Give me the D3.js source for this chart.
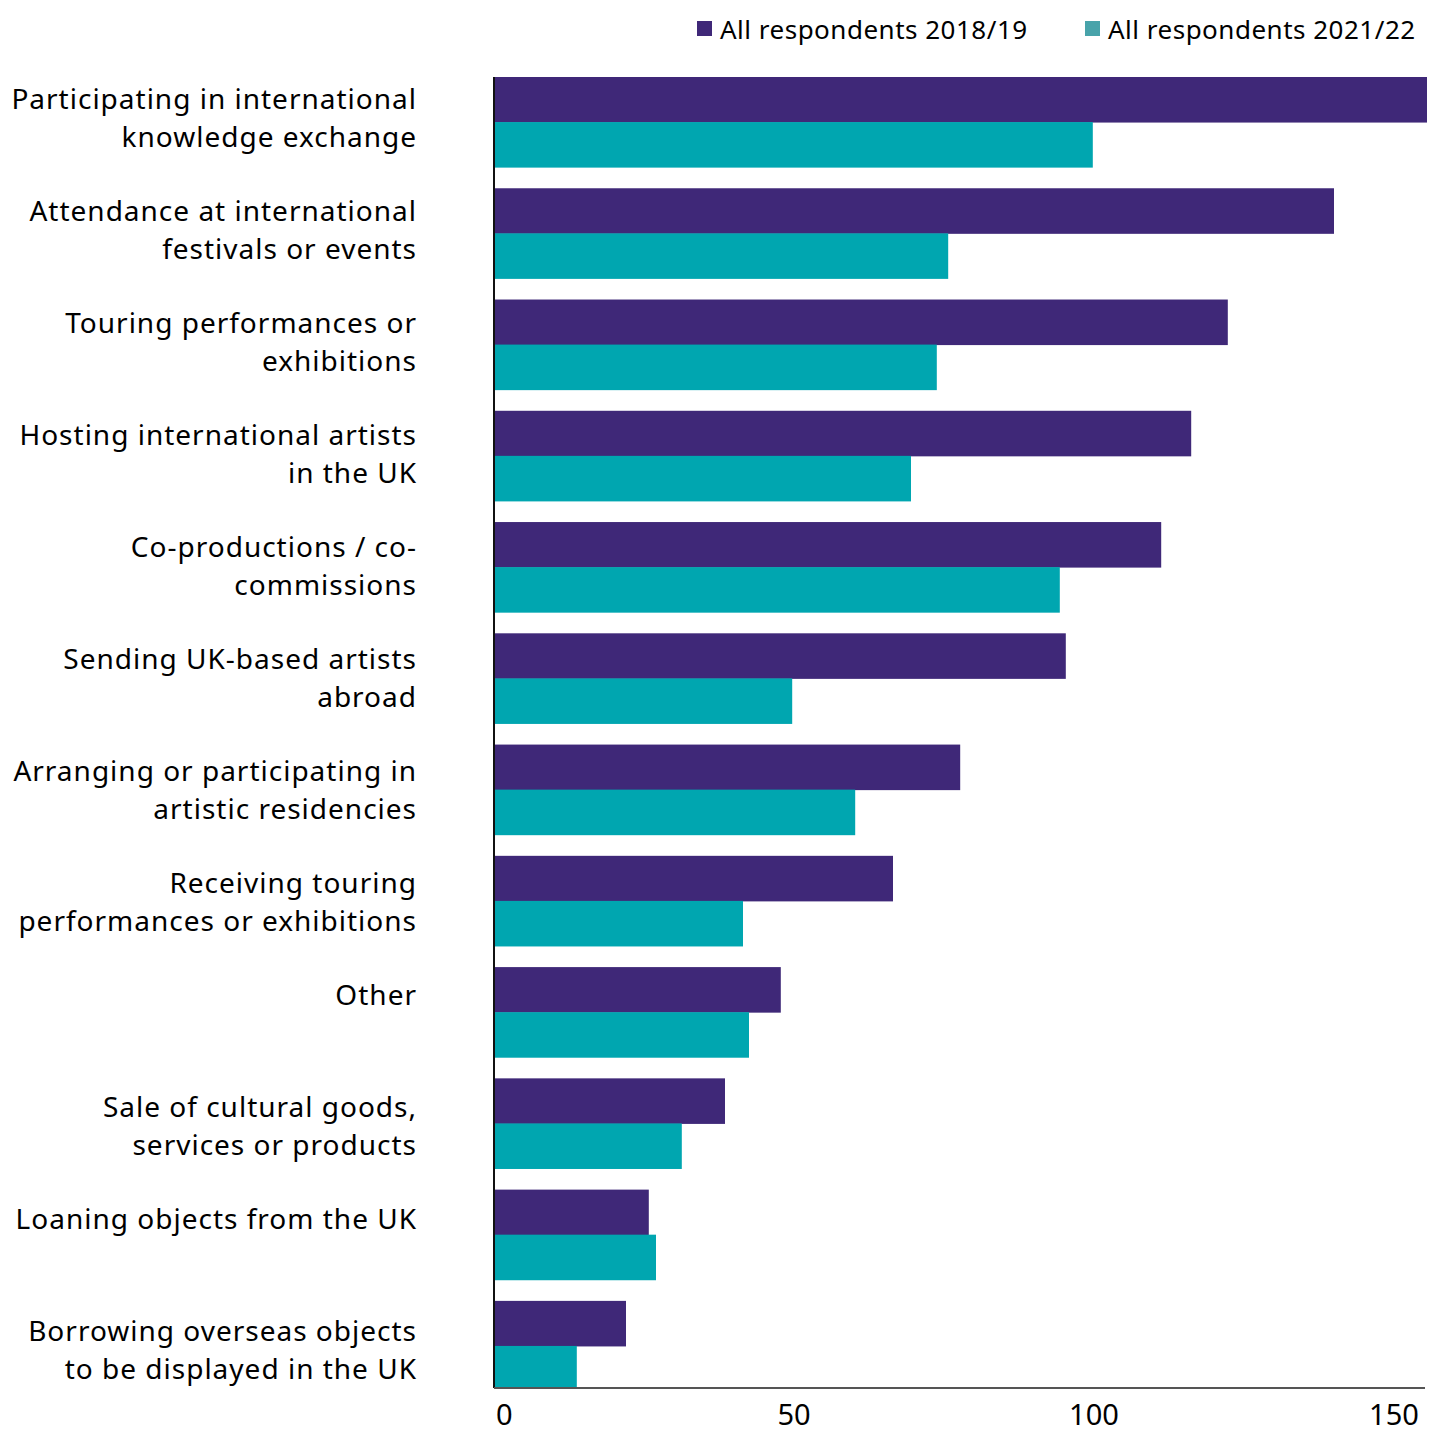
<!DOCTYPE html>
<html>
<head>
<meta charset="utf-8">
<script src="https://cdn.jsdelivr.net/npm/d3@7"></script>
<style>
  body { margin: 0; background: #fff; }
  text { font-family: "Noto Sans", sans-serif; fill: #000; }
</style>
</head>
<body>
<div id="chart"></div>
<script>
// Data
const categories = [
  ["Participating in international", "knowledge exchange"],
  ["Attendance at international", "festivals or events"],
  ["Touring performances or", "exhibitions"],
  ["Hosting international artists", "in the UK"],
  ["Co-productions / co-", "commissions"],
  ["Sending UK-based artists", "abroad"],
  ["Arranging or participating in", "artistic residencies"],
  ["Receiving touring", "performances or exhibitions"],
  ["Other"],
  ["Sale of cultural goods,", "services or products"],
  ["Loaning objects from the UK"],
  ["Borrowing overseas objects", "to be displayed in the UK"]
];
const series = ["All respondents 2018/19", "All respondents 2021/22"];
const values2018 = [155.5, 140, 122.3, 116.2, 111.2, 95.3, 77.7, 66.5, 47.8, 38.5, 25.8, 22];
const values2021 = [99.8, 75.7, 73.8, 69.5, 94.3, 49.7, 60.2, 41.5, 42.5, 31.3, 27, 13.8];
const ticks = [0, 50, 100, 150];
const colors = ["#3f2878", "#00a6b0"];
const legendColors = ["#3f2878", "#48a3aa"];

// Dimensions
const width = 1429, height = 1434;
const margin = { top: 77, right: 2, bottom: 46, left: 494 };
const plotBottom = 1388;

const svg = d3.select("#chart").append("svg")
  .attr("width", width)
  .attr("height", height);

const keys = categories.map((d, i) => i);
const rows = keys.map(i => ({ key: i, label: categories[i], v: [values2018[i], values2021[i]] }));

// Scales
const x = d3.scaleLinear().domain([0, 155.5]).range([margin.left, 1427]);
const y = d3.scaleBand().domain(keys).range([margin.top, 1391]).paddingInner(0.19).paddingOuter(0);
const sub = d3.scaleBand().domain([0, 1]).range([0, y.bandwidth()]);
const yLabel = d3.scalePoint().domain(keys).range([98, 1330]);

svg.append("clipPath").attr("id", "plot-clip")
  .append("rect")
  .attr("x", margin.left).attr("y", 0)
  .attr("width", width - margin.left).attr("height", plotBottom);

// Bars
const bars = svg.append("g").attr("clip-path", "url(#plot-clip)");
const groups = bars.selectAll("g")
  .data(rows)
  .join("g")
  .attr("transform", d => `translate(0,${y(d.key)})`);
groups.selectAll("rect")
  .data(d => d.v.map((v, s) => ({ v, s })))
  .join("rect")
  .attr("x", x(0))
  .attr("y", d => sub(d.s))
  .attr("width", d => x(d.v) - x(0))
  .attr("height", sub.bandwidth() + 0.5)
  .attr("fill", d => colors[d.s]);

// Category labels
const labels = svg.append("g").selectAll("text")
  .data(rows)
  .join("text")
  .attr("text-anchor", "end")
  .attr("font-size", 28)
  .attr("letter-spacing", "1px")
  .attr("x", 417)
  .attr("y", d => yLabel(d.key))
  .attr("dominant-baseline", "central");
labels.selectAll("tspan")
  .data(d => d.label)
  .join("tspan")
  .attr("x", 417)
  .attr("dy", (d, i) => i === 0 ? 0 : 38)
  .text(d => d);

// Axes
svg.append("line")
  .attr("x1", x(0)).attr("x2", x(0))
  .attr("y1", margin.top).attr("y2", plotBottom)
  .attr("stroke", "#111").attr("stroke-width", 2);
svg.append("line")
  .attr("x1", x(0)).attr("x2", 1425)
  .attr("y1", plotBottom).attr("y2", plotBottom)
  .attr("stroke", "#555").attr("stroke-width", 2);

svg.append("g").selectAll("text")
  .data(ticks)
  .join("text")
  .attr("x", d => d === 0 ? x(d) + 2 : x(d))
  .attr("y", 1425)
  .attr("text-anchor", d => d === 0 ? "start" : "middle")
  .attr("font-size", 29)
  .text(d => d);

// Legend
const legendX = [697, 1085];
const legend = svg.append("g").selectAll("g")
  .data(series)
  .join("g")
  .attr("transform", (d, i) => `translate(${legendX[i]},0)`);
legend.append("rect")
  .attr("x", 0).attr("y", 21)
  .attr("width", 15).attr("height", 15)
  .attr("fill", (d, i) => legendColors[i]);
legend.append("text")
  .attr("x", 23).attr("y", 29)
  .attr("dominant-baseline", "central")
  .attr("font-size", 26)
  .attr("letter-spacing", "0.5px")
  .text(d => d);
</script>
</body>
</html>
